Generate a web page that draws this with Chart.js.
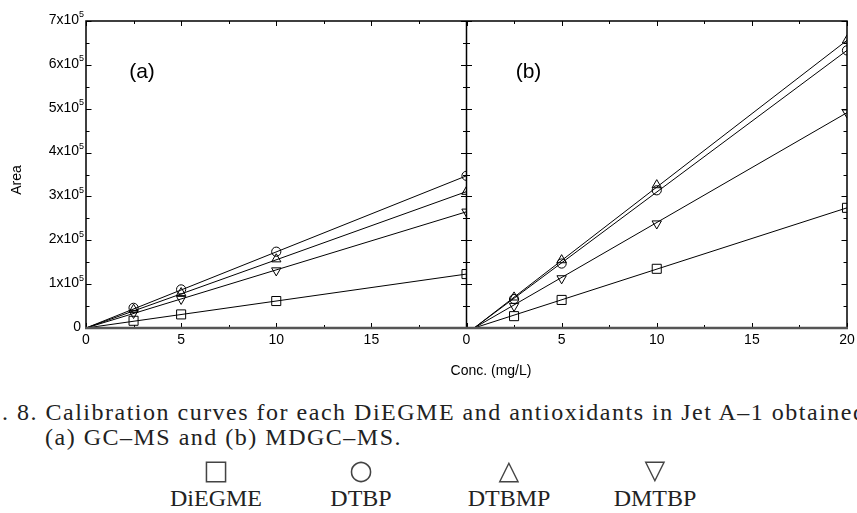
<!DOCTYPE html>
<html>
<head>
<meta charset="utf-8">
<script src="https://cdn.jsdelivr.net/npm/chart.js@4.4.0/dist/chart.umd.min.js"></script>
<style>
  html, body { margin: 0; padding: 0; background: #fff; overflow: hidden; }
  body { width: 857px; height: 513px; position: relative; }
  #chart { position: absolute; left: 0; top: 0; }
  .cap { position: absolute; white-space: nowrap; font-family: "Liberation Serif", "DejaVu Serif", serif;
         font-size: 24px; line-height: 24px; color: #222; letter-spacing: 1.5px; }
  .leg { position: absolute; width: 140px; text-align: center; }
  .leg .sym { font-family: "DejaVu Sans", sans-serif; font-size: 27px; line-height: 24px; color: #444;
              will-change: transform; }
  .leg .name { font-family: "Liberation Serif", serif; font-size: 24px; line-height: 26px; color: #222; margin-top: 3px; }
</style>
</head>
<body>
<canvas id="chart" width="857" height="385"></canvas>
<div class="cap" style="left:2px; top:400px;">. 8. Calibration curves for each DiEGME and antioxidants in Jet A–1 obtained</div>
<div class="cap" style="left:45px; top:425px;">(a) GC–MS and (b) MDGC–MS.</div>
<div id="legend"></div>
<script>
// concentrations (mg/L)
const conc = [2.5, 5, 10, 20];
const compounds = ['DiEGME', 'DTBP', 'DTBMP', 'DMTBP'];

// (a) GC-MS peak areas, one row per compound
const gcDiEGME = [16500, 31000, 61500, 123000];
const gcDTBP = [46000, 88000, 174000, 347000];
const gcDTBMP = [42000, 80000, 157000, 311000];
const gcDMTBP = [34000, 66000, 131000, 265000];

// (b) MDGC-MS peak areas
const mdDiEGME = [27000, 64000, 135000, 274000];
const mdDTBP = [66000, 147000, 314000, 633000];
const mdDTBMP = [70000, 155000, 326000, 656000];
const mdDMTBP = [50000, 113000, 238000, 491000];

// fitted lines: x where the line meets zero, and its value at 20 mg/L
const gcFitStart = 0;
const gcFitEnd = [123000, 347000, 311000, 265000];
const mdFitStart = 0.4;
const mdFitEnd = [274000, 633000, 656000, 491000];

// axis ticks
const xTicks = [0, 5, 10, 15, 20];
const yTicks = [0, 1, 2, 3, 4, 5, 6, 7];
const panelSpan = 20;

// marker look
const markerStyle = ['rect', 'circle', 'triangle', 'triangle'];
const markerRotation = [0, 0, 0, 180];
const markerRadius = [6.4, 4.6, 5.4, 5.4];
const legendSymbols = ['□', '○', '△', '▽'];
const legendX = [216, 361, 509, 655];

function panelSets(panel, rows, fitStart, fitEnd) {
  const off = panel === 'a' ? 0 : panelSpan;
  const sets = [];
  compounds.forEach((name, i) => {
    sets.push({
      label: name + ' fit', panel: panel, showLine: true,
      data: [{ x: off + fitStart, y: 0 }, { x: off + conc[conc.length - 1], y: fitEnd[i] }],
      borderColor: '#000', borderWidth: 1, pointRadius: 0
    });
  });
  compounds.forEach((name, i) => {
    sets.push({
      label: name, panel: panel, showLine: false,
      data: conc.map((c, j) => ({ x: off + c, y: rows[i][j] })),
      pointStyle: markerStyle[i], rotation: markerRotation[i], pointRadius: markerRadius[i],
      borderColor: '#000', borderWidth: 1, backgroundColor: 'rgba(0,0,0,0)'
    });
  });
  return sets;
}

const datasets = [
  ...panelSets('a', [gcDiEGME, gcDTBP, gcDTBMP, gcDMTBP], gcFitStart, gcFitEnd),
  ...panelSets('b', [mdDiEGME, mdDTBP, mdDTBMP, mdDMTBP], mdFitStart, mdFitEnd)
];

// frame, inward ticks, labels
const framePlugin = {
  id: 'frame',
  beforeDatasetDraw(chart, args) {
    const ds = chart.data.datasets[args.index];
    const x = chart.scales.x;
    const { top, bottom } = chart.chartArea;
    const l = x.getPixelForValue(ds.panel === 'a' ? 0 : panelSpan);
    const r = x.getPixelForValue(ds.panel === 'a' ? panelSpan : 2 * panelSpan);
    chart.ctx.save();
    chart.ctx.beginPath();
    chart.ctx.rect(l, top, r - l, bottom - top);
    chart.ctx.clip();
  },
  afterDatasetDraw(chart) {
    chart.ctx.restore();
  },
  afterDraw(chart) {
    const ctx = chart.ctx;
    const x = chart.scales.x, y = chart.scales.y;
    const { left, right, top, bottom } = chart.chartArea;
    const mid = x.getPixelForValue(panelSpan);
    ctx.save();

    // ticks
    ctx.strokeStyle = '#000';
    ctx.lineWidth = 1;
    ctx.beginPath();
    for (let v = 0; v <= 2 * panelSpan; v += 2.5) {
      const px = Math.round(x.getPixelForValue(v)) + 0.5;
      const len = v % 5 === 0 ? 5 : 3;
      ctx.moveTo(px, top); ctx.lineTo(px, top + len);
      ctx.moveTo(px, bottom); ctx.lineTo(px, bottom - len);
    }
    for (let v = 0; v <= 7; v += 0.5) {
      const py = Math.round(y.getPixelForValue(v * 1e5)) + 0.5;
      const len = v % 1 === 0 ? 5.5 : 3.5;
      ctx.moveTo(left, py); ctx.lineTo(left + len, py);
      ctx.moveTo(right, py); ctx.lineTo(right - len, py);
      ctx.moveTo(mid - len, py); ctx.lineTo(mid + len, py);
    }
    ctx.stroke();

    // frame
    ctx.lineWidth = 1.5;
    ctx.beginPath();
    ctx.moveTo(left, bottom); ctx.lineTo(left, top); ctx.lineTo(right, top); ctx.lineTo(right, bottom);
    ctx.moveTo(mid, top); ctx.lineTo(mid, bottom);
    ctx.stroke();
    ctx.strokeStyle = '#555';
    ctx.lineWidth = 2.5;
    ctx.beginPath();
    ctx.moveTo(left - 1, bottom); ctx.lineTo(right + 1, bottom);
    ctx.stroke();

    // x tick labels
    ctx.fillStyle = '#000';
    ctx.font = '14px "Liberation Sans", Arial, sans-serif';
    ctx.textAlign = 'center';
    ctx.textBaseline = 'top';
    xTicks.forEach(t => {
      if (t < panelSpan) ctx.fillText(String(t), x.getPixelForValue(t), bottom + 5);
      ctx.fillText(String(t), x.getPixelForValue(panelSpan + t), bottom + 5);
    });

    // y tick labels with superscript exponent
    ctx.textBaseline = 'middle';
    ctx.textAlign = 'right';
    yTicks.forEach(t => {
      const py = y.getPixelForValue(t * 1e5) - 1;
      if (t === 0) {
        ctx.font = '14px "Liberation Sans", Arial, sans-serif';
        ctx.fillText('0', left - 5, py);
        return;
      }
      ctx.font = '9px "Liberation Sans", Arial, sans-serif';
      ctx.fillText('5', left - 2, py - 5);
      ctx.font = '14px "Liberation Sans", Arial, sans-serif';
      ctx.fillText(t + 'x10', left - 7, py);
    });

    // axis titles
    ctx.font = '14px "Liberation Sans", Arial, sans-serif';
    ctx.textAlign = 'center';
    ctx.fillText('Conc. (mg/L)', 491, bottom + 43);
    ctx.save();
    ctx.translate(17, 180);
    ctx.rotate(-Math.PI / 2);
    ctx.fillText('Area', 0, 0);
    ctx.restore();

    // panel tags
    ctx.font = '21px "Liberation Sans", Arial, sans-serif';
    ctx.fillText('(a)', left + 56, top + 51);
    ctx.fillText('(b)', mid + 62, top + 51);
    ctx.restore();
  }
};

new Chart(document.getElementById('chart'), {
  type: 'scatter',
  data: { datasets: datasets },
  options: {
    responsive: false,
    animation: false,
    layout: { padding: { left: 86, right: 10, top: 21, bottom: 385 - 328 } },
    plugins: { legend: { display: false }, tooltip: { enabled: false } },
    scales: {
      x: { type: 'linear', display: false, min: 0, max: 2 * panelSpan },
      y: { type: 'linear', display: false, min: 0, max: 700000 }
    }
  },
  plugins: [framePlugin]
});

// legend row under the caption
const legend = document.getElementById('legend');
compounds.forEach((name, i) => {
  const d = document.createElement('div');
  d.className = 'leg';
  d.style.left = (legendX[i] - 70) + 'px';
  d.style.top = '458px';
  d.innerHTML = '<div class="sym">' + legendSymbols[i] + '</div><div class="name">' + name + '</div>';
  legend.appendChild(d);
});
</script>
</body>
</html>
